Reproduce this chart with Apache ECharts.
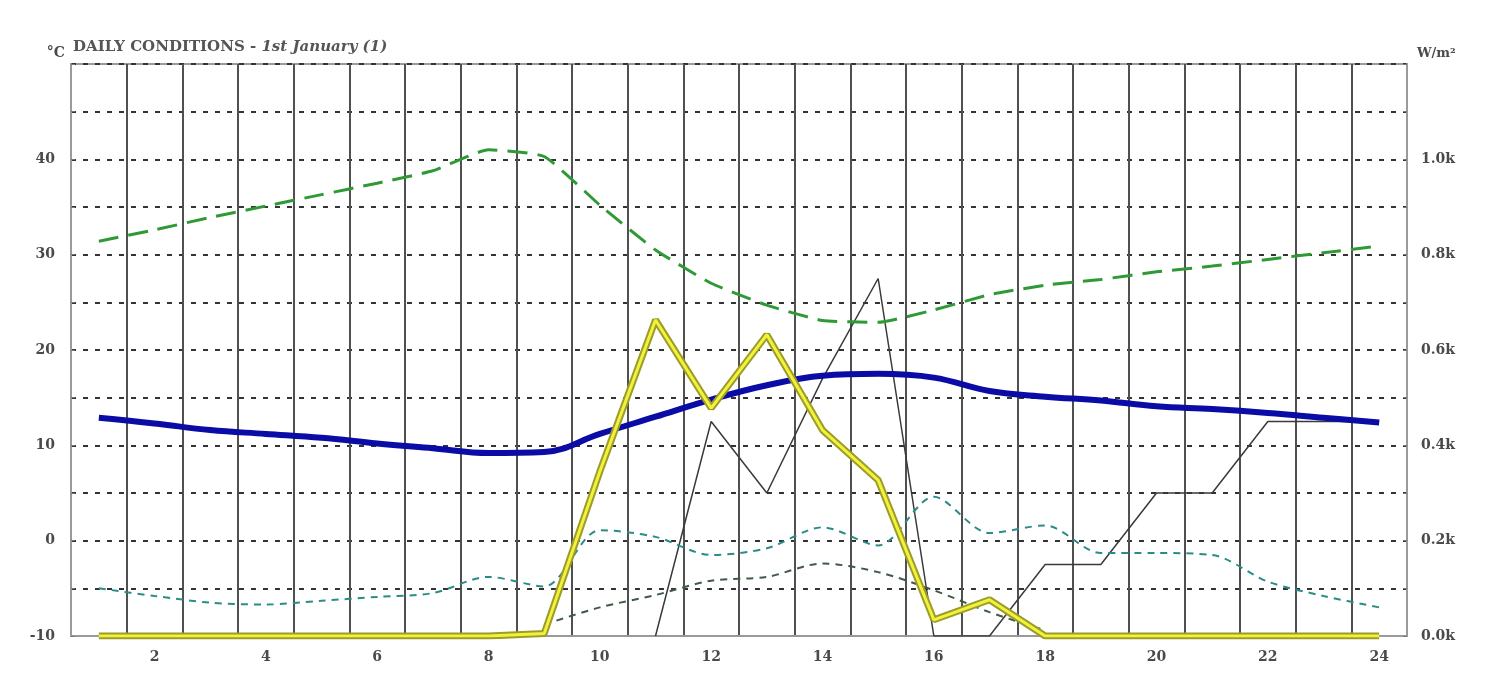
<!DOCTYPE html>
<html>
<head>
<meta charset="utf-8">
<script src="https://cdn.jsdelivr.net/npm/echarts@6/dist/echarts.min.js"></script>
<style>
html,body{margin:0;padding:0;background:#fff;}
#chart{width:1491px;height:678px;}
</style>
</head>
<body>
<div id="chart"></div>
<script>
// hours of the day (category bands)
const hours = [1,2,3,4,5,6,7,8,9,10,11,12,13,14,15,16,17,18,19,20,21,22,23,24];

// left axis (°C)
const greenDashed = [31.4,32.6,33.9,35.1,36.3,37.5,38.8,41.0,40.3,35.2,30.5,27.0,24.7,23.1,22.9,24.2,25.8,26.8,27.4,28.2,28.8,29.5,30.2,30.9];
const blueSolid   = [12.9,12.3,11.6,11.2,10.8,10.2,9.7,9.2,9.3,11.2,13.0,14.8,16.3,17.3,17.5,17.1,15.7,15.1,14.7,14.1,13.8,13.4,12.9,12.4];
const tealDashed  = [-5.0,-5.8,-6.5,-6.7,-6.3,-5.9,-5.5,-3.8,-4.8,1.1,0.4,-1.5,-0.8,1.4,-0.5,4.6,0.8,1.6,-1.3,-1.3,-1.5,-4.3,-5.8,-7.0];
const darkDashed  = [null,null,null,null,null,null,null,null,-8.8,-7.0,-5.7,-4.2,-3.8,-2.4,-3.3,-5.2,-7.5,-9.4,null,null,null,null,null,null];

// right axis (W/m²)
const yellowSolar = [0,0,0,0,0,0,0,0,5,345,663,478,632,432,327,34,76,0,0,0,0,0,0,0];
const blackThin   = [null,null,null,null,null,null,null,null,null,null,0,450,300,540,750,0,0,150,150,300,300,450,450,450];

// axis tick labels
const leftLabels = [-10,0,10,20,30,40];
const rightLabels = [0,200,400,600,800,1000];

const labelFont = {color:'#4a4a4a', fontFamily:'DejaVu Serif', fontSize:14, fontWeight:'bold'};

const chart = echarts.init(document.getElementById('chart'));
chart.setOption({
  animation:false,
  backgroundColor:'#fff',
  title:{
    text:'{a|DAILY CONDITIONS - }{b|1st January (1)}',
    left:68, top:35,
    textStyle:{rich:{
      a:{color:'#555', fontFamily:'DejaVu Serif', fontSize:15},
      b:{color:'#555', fontFamily:'DejaVu Serif', fontSize:15, fontStyle:'italic'}
    }}
  },
  grid:{left:71, right:84, top:64, bottom:42, show:true, borderColor:'#9a9a9a', borderWidth:2, backgroundColor:'#fff'},
  xAxis:{
    type:'category', data:hours, boundaryGap:true,
    axisLine:{show:true, onZero:false, lineStyle:{color:'#9a9a9a', width:2}},
    axisTick:{show:false},
    axisLabel:Object.assign({margin:14, interval:function(i,v){return Number(v)%2===0;}}, labelFont),
    splitLine:{show:true, interval:0, lineStyle:{color:'#505050', width:2}}
  },
  yAxis:[{
    type:'value', min:-10, max:50, interval:5, position:'left',
    name:'°C', nameLocation:'end', nameGap:4,
    nameTextStyle:{color:'#4a4a4a', fontFamily:'DejaVu Serif', fontSize:14, fontWeight:'bold', align:'right', padding:[0,6,0,0]},
    axisLine:{show:true, lineStyle:{color:'#9a9a9a', width:2}},
    axisTick:{show:true, inside:true, length:4, lineStyle:{color:'#777'}},
    axisLabel:Object.assign({margin:16, formatter:function(v){return leftLabels.indexOf(v)>=0 ? String(v) : '';}}, labelFont),
    splitLine:{show:true, lineStyle:{color:'#333', width:2, type:[5,7]}}
  },{
    type:'value', min:0, max:1200, interval:100, position:'right',
    name:'W/m²', nameLocation:'end', nameGap:4,
    nameTextStyle:{color:'#4a4a4a', fontFamily:'DejaVu Serif', fontSize:13, fontWeight:'bold', align:'left', padding:[0,0,0,10]},
    axisLine:{show:true, lineStyle:{color:'#9a9a9a', width:2}},
    axisTick:{show:true, inside:true, length:4, lineStyle:{color:'#777'}},
    axisLabel:Object.assign({margin:14, formatter:function(v){return rightLabels.indexOf(v)>=0 ? (v/1000).toFixed(1)+'k' : '';}}, labelFont),
    splitLine:{show:false}
  }],
  series:[
    {type:'line', data:blackThin, yAxisIndex:1, symbol:'none', z:3,
     lineStyle:{color:'#3a3a3a', width:1.5}},
    {type:'line', data:darkDashed, yAxisIndex:0, symbol:'none', smooth:0.3, z:3,
     lineStyle:{color:'#3f5a45', width:2, type:[7,6]}},
    {type:'line', data:tealDashed, yAxisIndex:0, symbol:'none', smooth:0.3, z:3,
     lineStyle:{color:'#2a8c86', width:2, type:[7,6]}},
    {type:'line', data:greenDashed, yAxisIndex:0, symbol:'none', smooth:0.15, z:4,
     lineStyle:{color:'#2f9a35', width:3, type:[20,10]}},
    {type:'line', data:blueSolid, yAxisIndex:0, symbol:'none', smooth:0.4, z:5,
     lineStyle:{color:'#0b0ba6', width:6}},
    {type:'line', data:yellowSolar, yAxisIndex:1, symbol:'none', z:6,
     lineStyle:{color:'#9c9c28', width:7}},
    {type:'line', data:yellowSolar, yAxisIndex:1, symbol:'none', z:7,
     lineStyle:{color:'#f2f23c', width:3}}
  ]
});
</script>
</body>
</html>
